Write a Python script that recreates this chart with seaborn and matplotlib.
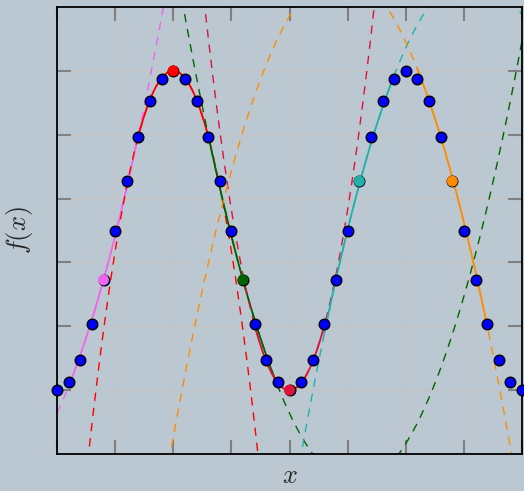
import numpy as np
import matplotlib
matplotlib.use("Agg")
import matplotlib.pyplot as plt
import seaborn as sns

# sample points
x_pts = [round(0.2 * i, 1) for i in range(41)]
y_pts = [-1.0, -0.951, -0.809, -0.588, -0.309, 0.0, 0.309, 0.588, 0.809, 0.951,
         1.0, 0.951, 0.809, 0.588, 0.309, 0.0, -0.309, -0.588, -0.809, -0.951,
         -1.0, -0.951, -0.809, -0.588, -0.309, 0.0, 0.309, 0.588, 0.809, 0.951,
         1.0, 0.951, 0.809, 0.588, 0.309, 0.0, -0.309, -0.588, -0.809, -0.951,
         -1.0]

# local quadratic fits: y = vy + k * (x - vx)^2
fit_colors = ["#ee66ee", "red", "darkgreen", "crimson", "lightseagreen", "darkorange"]
fit_centers = [0.8, 2.0, 3.2, 4.0, 5.2, 6.8]
fit_vx = [-1.154, 2.0, 5.14, 4.0, 7.15, 4.885]
fit_vy = [-1.592, 1.0, -1.586, -1.0, 1.60, 1.617]
fit_k = [0.336, -1.13, 0.339, 1.13, -0.345, -0.35]
fit_lo = [0.2, 1.4, 2.6, 3.4, 4.6, 6.2]
fit_hi = [1.4, 2.6, 3.8, 4.6, 5.8, 7.4]

bg = "#bbc8d1"
sns.set_theme(style="ticks")
plt.rcParams["mathtext.fontset"] = "cm"

fig = plt.figure(figsize=(5.24, 4.91), dpi=100, facecolor=bg)
ax = fig.add_axes([57 / 524, 37 / 491, 465 / 524, 447 / 491])
ax.set_facecolor(bg)

xx = np.linspace(0, 8, 600)
for col, vx, vy, k, lo, hi in zip(fit_colors, fit_vx, fit_vy, fit_k, fit_lo, fit_hi):
    yy = vy + k * (xx - vx) ** 2
    sns.lineplot(x=xx, y=yy, color=col, linestyle=(0, (6, 5)), linewidth=1.0, ax=ax)
    xs = np.linspace(lo, hi, 100)
    sns.lineplot(x=xs, y=vy + k * (xs - vx) ** 2, color=col, linewidth=1.3, ax=ax)

sns.scatterplot(x=x_pts, y=y_pts, color="blue", edgecolor="black", linewidth=1.0,
                s=58, zorder=5, clip_on=False, ax=ax)

# highlighted centre points
cy = [y_pts[x_pts.index(c)] for c in fit_centers]
sns.scatterplot(x=fit_centers, y=cy, hue=fit_colors, palette=fit_colors,
                edgecolor="none", s=62, zorder=6, legend=False, ax=ax)

ax.set_xlim(0, 8)
ax.set_ylim(-1.4, 1.4)
ax.set_xticks(np.arange(0, 9, 1))
ax.set_yticks([-1.0, -0.6, -0.2, 0.2, 0.6, 1.0])
ax.set_xticklabels([])
ax.set_yticklabels([])
ax.tick_params(direction="in", length=10, width=1.5, color="#808080",
               top=True, right=True)
ax.grid(True, color="#c6c4c2", linewidth=0.8)
for sp in ax.spines.values():
    sp.set_color("black")
    sp.set_linewidth(1.3)

ax.set_xlabel("$x$", fontsize=19, labelpad=3)
ax.set_ylabel("$f(x)$", fontsize=19, labelpad=12)

fig.savefig("out.png", dpi=100, facecolor=bg)
